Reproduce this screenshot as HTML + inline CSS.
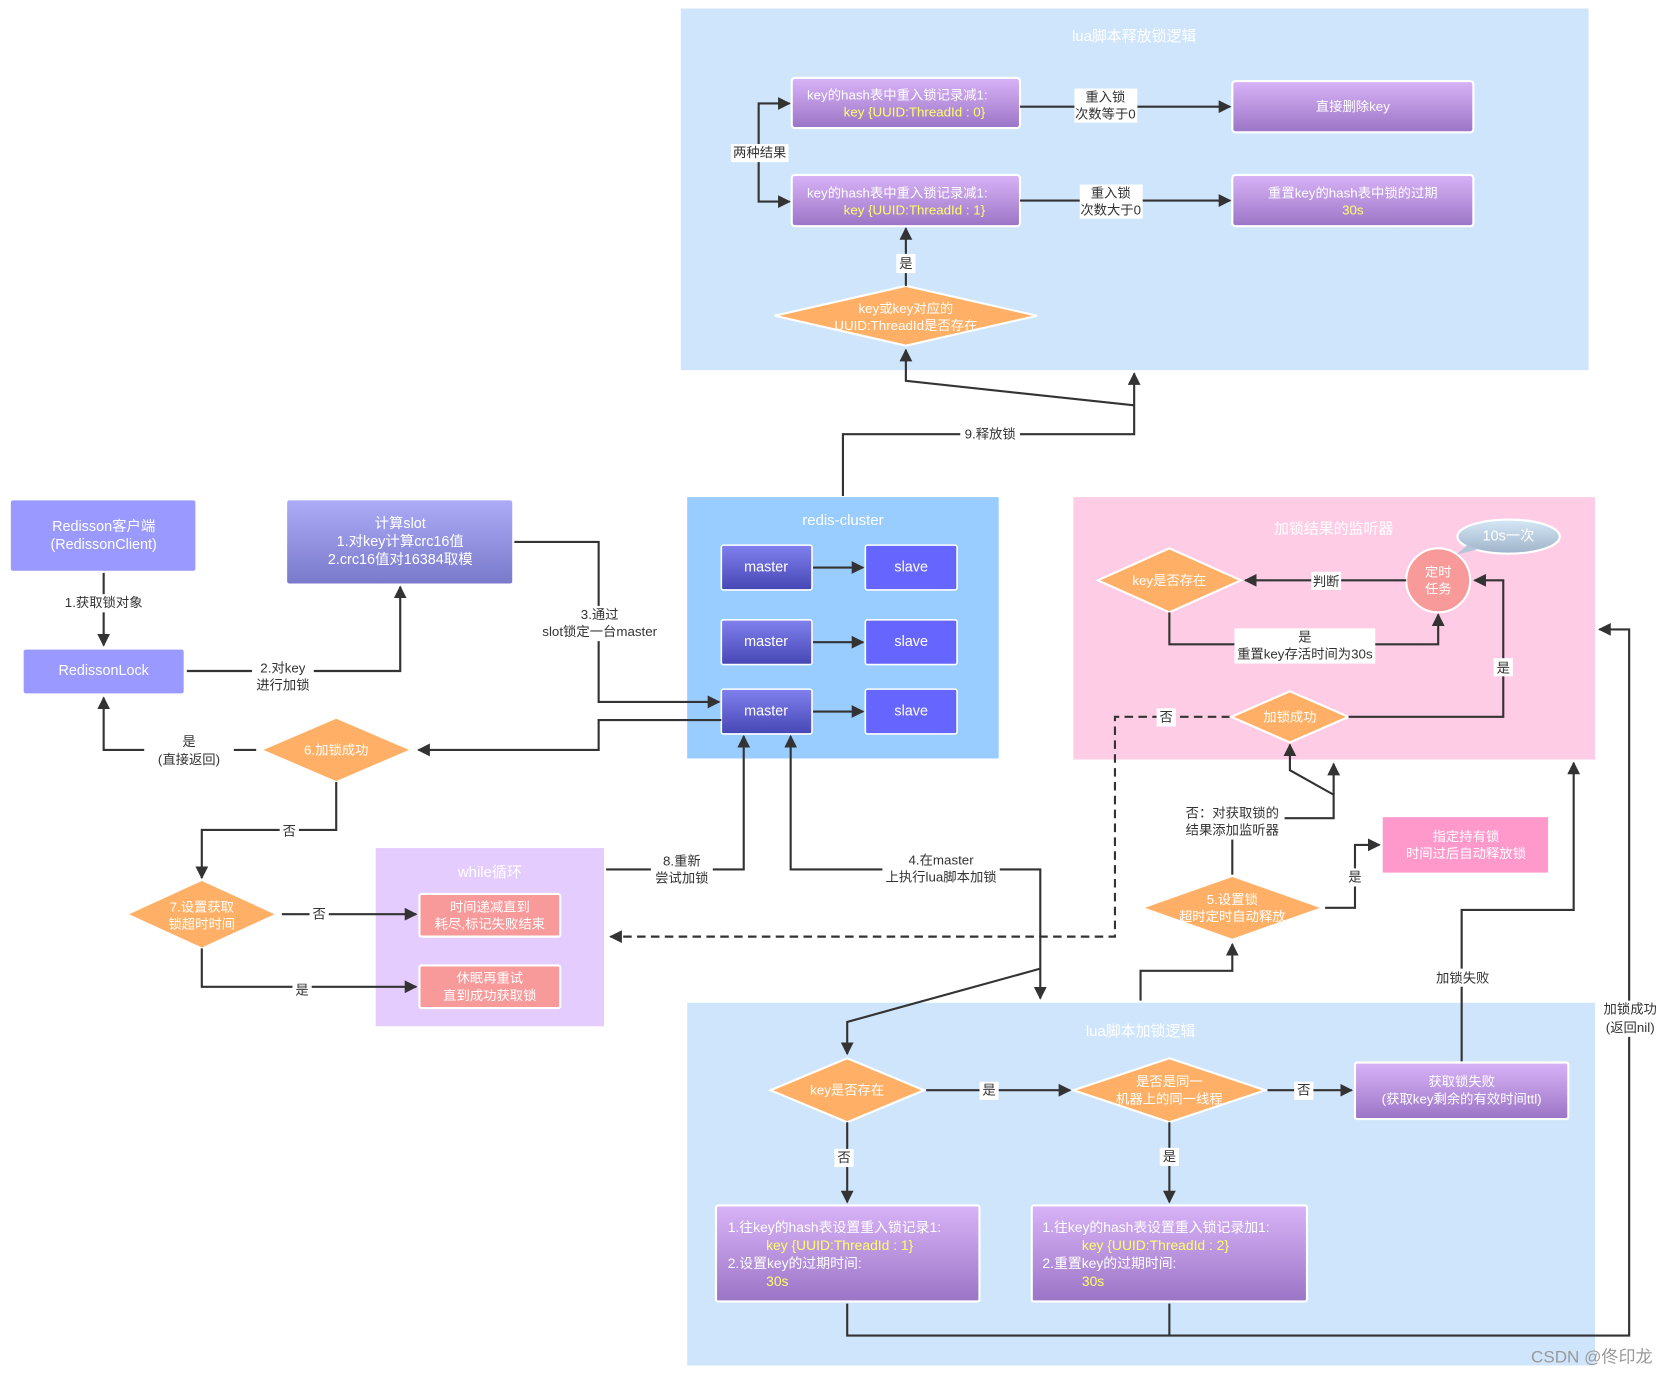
<!DOCTYPE html>
<html><head><meta charset="utf-8"><style>
html,body{margin:0;padding:0;background:#fff;}
svg{display:block;}
text{font-family:"Liberation Sans","Noto Sans CJK SC",sans-serif;font-size:12.5px;text-anchor:middle;dominant-baseline:central;}
.w{fill:#fff;}
.t{fill:#fff;font-size:14px;}
.y{fill:#ffff66;}
.k{fill:#333;}
.ln{stroke:#333;stroke-width:2;fill:none;}
.lb{fill:#fff;}
</style></head><body>
<svg width="1672" height="1374" viewBox="0 0 1567 1288" xmlns="http://www.w3.org/2000/svg">
<defs>
<linearGradient id="pg" x1="0" y1="0" x2="0" y2="1"><stop offset="0" stop-color="#d9b3f7"/><stop offset="1" stop-color="#9b75c6"/></linearGradient>
<linearGradient id="sg" x1="0" y1="0" x2="0" y2="1"><stop offset="0" stop-color="#ababf7"/><stop offset="1" stop-color="#7a7acb"/></linearGradient>
<linearGradient id="mg" x1="0" y1="0" x2="0" y2="1"><stop offset="0" stop-color="#8080ee"/><stop offset="1" stop-color="#4646b4"/></linearGradient>
<linearGradient id="eg" x1="0" y1="0" x2="0" y2="1"><stop offset="0" stop-color="#d6e8f6"/><stop offset="1" stop-color="#9fb3ca"/></linearGradient>
<marker id="a" viewBox="0 0 10 10" refX="9" refY="5" markerWidth="6" markerHeight="6" orient="auto-start-reverse"><path d="M0,0L10,5L0,10z" fill="#333"/></marker>
</defs>

<rect x="638" y="8" width="851" height="339" fill="#cfe5fb"/>
<text x="1063" y="34" class="t">lua脚本释放锁逻辑</text>
<rect x="644" y="466" width="292" height="245" fill="#99ccff"/>
<text x="790" y="488" class="t">redis-cluster</text>
<rect x="1006" y="466" width="489" height="246" fill="#ffcce6"/>
<text x="1250" y="496" class="t">加锁结果的监听器</text>
<rect x="352" y="795" width="214" height="167" fill="#e5ccff"/>
<text x="459" y="818" class="t">while循环</text>
<rect x="644" y="940" width="851" height="340" fill="#cfe5fb"/>
<text x="1069" y="967" class="t">lua脚本加锁逻辑</text>

<rect x="742" y="73" width="214" height="47" rx="3" fill="url(#pg)" stroke="#fff" stroke-width="2"/>
<text x="841" y="89" class="w">key的hash表中重入锁记录减1:</text>
<text x="857" y="105" class="y">key {UUID:ThreadId : 0}</text>
<rect x="742" y="164" width="214" height="48" rx="3" fill="url(#pg)" stroke="#fff" stroke-width="2"/>
<text x="841" y="181" class="w">key的hash表中重入锁记录减1:</text>
<text x="857" y="197" class="y">key {UUID:ThreadId : 1}</text>
<rect x="1155" y="76" width="226" height="48" rx="3" fill="url(#pg)" stroke="#fff" stroke-width="2"/>
<text x="1268" y="100" class="w">直接删除key</text>
<rect x="1155" y="164" width="226" height="48" rx="3" fill="url(#pg)" stroke="#fff" stroke-width="2"/>
<text x="1268" y="181" class="w">重置key的hash表中锁的过期</text>
<text x="1268" y="197" class="y">30s</text>
<polygon points="726,296 849,268 972,296 849,324" fill="#ffb066" stroke="#fff" stroke-width="2"/>
<text x="849" y="289" class="w">key或key对应的</text>
<text x="849" y="305" class="w">UUID:ThreadId是否存在</text>
<path class="ln" d="M849,268V214" marker-end="url(#a)"/>
<rect x="840" y="238" width="18" height="18" class="lb"/><text x="849" y="247" class="k">是</text>
<path class="ln" d="M740,97H711V189H740" marker-end="url(#a)" marker-start="url(#a)"/>
<rect x="685" y="135" width="54" height="17" class="lb"/><text x="712" y="143" class="k">两种结果</text>
<path class="ln" d="M956,100H1153" marker-end="url(#a)"/>
<rect x="1007" y="83" width="59" height="32" class="lb"/><text x="1036" y="91" class="k">重入锁</text><text x="1036" y="107" class="k">次数等于0</text>
<path class="ln" d="M956,188H1153" marker-end="url(#a)"/>
<rect x="1012" y="173" width="59" height="32" class="lb"/><text x="1041" y="181" class="k">重入锁</text><text x="1041" y="197" class="k">次数大于0</text>

<path class="ln" d="M790,465V407H1063V350" marker-end="url(#a)"/>
<path class="ln" d="M1063,380L849,357V328" marker-end="url(#a)"/>
<rect x="900" y="399" width="56" height="17" class="lb"/><text x="928" y="407" class="k">9.释放锁</text>

<rect x="10" y="469" width="173" height="66" rx="2" fill="#9999ff"/>
<text x="97" y="494" class="w" style="font-size:13.5px">Redisson客户端</text>
<text x="97" y="511" class="w" style="font-size:13.5px">(RedissonClient)</text>
<rect x="22" y="609" width="150" height="41" rx="2" fill="#9999ff"/>
<text x="97" y="629" class="w" style="font-size:13.5px">RedissonLock</text>
<path class="ln" d="M97,537V605" marker-end="url(#a)"/>
<rect x="58" y="557" width="78" height="17" class="lb"/><text x="97" y="565" class="k">1.获取锁对象</text>
<rect x="269" y="469" width="211" height="78" rx="2" fill="url(#sg)"/>
<text x="375" y="491" class="w" style="font-size:13.5px">计算slot</text>
<text x="375" y="508" class="w" style="font-size:13.5px">1.对key计算crc16值</text>
<text x="375" y="525" class="w" style="font-size:13.5px">2.crc16值对16384取模</text>
<path class="ln" d="M175,629H375V550" marker-end="url(#a)"/>
<rect x="236" y="618" width="58" height="33" class="lb"/><text x="265" y="626" class="k">2.对key</text><text x="265" y="642" class="k">进行加锁</text>
<path class="ln" d="M482,508H561V658H674" marker-end="url(#a)"/>
<rect x="504" y="568" width="116" height="33" class="lb"/><text x="562" y="576" class="k">3.通过</text><text x="562" y="592" class="k">slot锁定一台master</text>

<g stroke="#fff" stroke-width="1.5">
<rect x="676" y="511" width="85" height="42" rx="2" fill="url(#mg)"/>
<rect x="676" y="581" width="85" height="42" rx="2" fill="url(#mg)"/>
<rect x="676" y="646" width="85" height="42" rx="2" fill="url(#mg)"/>
<rect x="811" y="511" width="86" height="42" rx="2" fill="#6666ff"/>
<rect x="811" y="581" width="86" height="42" rx="2" fill="#6666ff"/>
<rect x="811" y="646" width="86" height="42" rx="2" fill="#6666ff"/>
</g>
<text x="718" y="532" class="w" style="font-size:13.5px">master</text>
<text x="718" y="602" class="w" style="font-size:13.5px">master</text>
<text x="718" y="667" class="w" style="font-size:13.5px">master</text>
<text x="854" y="532" class="w" style="font-size:13.5px">slave</text>
<text x="854" y="602" class="w" style="font-size:13.5px">slave</text>
<text x="854" y="667" class="w" style="font-size:13.5px">slave</text>
<path class="ln" d="M762,532H809" marker-end="url(#a)"/>
<path class="ln" d="M762,602H809" marker-end="url(#a)"/>
<path class="ln" d="M762,667H809" marker-end="url(#a)"/>

<path class="ln" d="M676,675H561V703H392" marker-end="url(#a)"/>
<polygon points="245,703 315,673 385,703 315,733" fill="#ffb066" stroke="#fff" stroke-width="1.5"/>
<text x="315" y="703" class="w">6.加锁成功</text>
<path class="ln" d="M240,703H97V654" marker-end="url(#a)"/>
<rect x="135" y="687" width="84" height="34" class="lb"/><text x="177" y="695" class="k">是</text><text x="177" y="712" class="k">(直接返回)</text>
<path class="ln" d="M315,733V778H189V823" marker-end="url(#a)"/>
<rect x="262" y="771" width="18" height="17" class="lb"/><text x="271" y="779" class="k">否</text>

<polygon points="119,857 189,825 259,857 189,889" fill="#ffb066" stroke="#fff" stroke-width="1.5"/>
<text x="189" y="850" class="w">7.设置获取</text>
<text x="189" y="866" class="w">锁超时时间</text>
<rect x="393" y="838" width="132" height="40" rx="2" fill="#f8999a" stroke="#fff" stroke-width="2"/>
<text x="459" y="850" class="w">时间递减直到</text><text x="459" y="866" class="w">耗尽,标记失败结束</text>
<rect x="393" y="905" width="132" height="40" rx="2" fill="#f8999a" stroke="#fff" stroke-width="2"/>
<text x="459" y="917" class="w">休眠再重试</text><text x="459" y="933" class="w">直到成功获取锁</text>
<path class="ln" d="M264,857H390" marker-end="url(#a)"/>
<rect x="290" y="849" width="18" height="17" class="lb"/><text x="299" y="857" class="k">否</text>
<path class="ln" d="M189,889V925H390" marker-end="url(#a)"/>
<rect x="274" y="920" width="18" height="17" class="lb"/><text x="283" y="928" class="k">是</text>

<path class="ln" d="M568,815H697V690" marker-end="url(#a)"/>
<rect x="610" y="799" width="58" height="33" class="lb"/><text x="639" y="807" class="k">8.重新</text><text x="639" y="823" class="k">尝试加锁</text>
<path class="ln" d="M741,690V815H975V936" marker-start="url(#a)" marker-end="url(#a)"/>
<rect x="827" y="798" width="110" height="33" class="lb"/><text x="882" y="806" class="k">4.在master</text><text x="882" y="822" class="k">上执行lua脚本加锁</text>
<path class="ln" d="M975,908L794,958V988" marker-end="url(#a)"/>

<path d="M1153,672H1045V878H572" stroke="#333" stroke-width="2" fill="none" stroke-dasharray="8,5" marker-end="url(#a)"/>
<rect x="1084" y="664" width="18" height="17" class="lb"/><text x="1093" y="672" class="k">否</text>

<polygon points="1029,544 1096,514 1163,544 1096,574" fill="#ffb066" stroke="#fff" stroke-width="2"/>
<text x="1096" y="544" class="w">key是否存在</text>
<circle cx="1348" cy="544" r="30" fill="#f8999a" stroke="#fff" stroke-width="2"/>
<text x="1348" y="536" class="w">定时</text><text x="1348" y="552" class="w">任务</text>
<ellipse cx="1414" cy="503" rx="48" ry="16" fill="url(#eg)" stroke="#fff" stroke-width="2"/>
<path d="M1375,511L1365,520L1385,515z" fill="#b5c7da"/>
<text x="1414" y="503" class="w" style="font-size:13.5px">10s一次</text>
<path class="ln" d="M1318,544H1167" marker-end="url(#a)"/>
<rect x="1229" y="536" width="28" height="17" class="lb"/><text x="1243" y="545" class="k">判断</text>
<path class="ln" d="M1096,574V604H1348V576" marker-end="url(#a)"/>
<rect x="1157" y="589" width="132" height="33" class="lb"/><text x="1223" y="597" class="k">是</text><text x="1223" y="613" class="k">重置key存活时间为30s</text>
<polygon points="1154,672 1209,648 1264,672 1209,696" fill="#ffb066" stroke="#fff" stroke-width="2"/>
<text x="1209" y="672" class="w">加锁成功</text>
<path class="ln" d="M1264,672H1409V544H1382" marker-end="url(#a)"/>
<rect x="1400" y="617" width="18" height="17" class="lb"/><text x="1409" y="626" class="k">是</text>

<path class="ln" d="M1250,745L1209,722V698" marker-end="url(#a)"/>
<path class="ln" d="M1155,820V767H1250V716" marker-end="url(#a)"/>
<rect x="1106" y="754" width="98" height="33" class="lb"/><text x="1155" y="762" class="k">否：对获取锁的</text><text x="1155" y="778" class="k">结果添加监听器</text>
<polygon points="1070,851 1155,821 1240,851 1155,881" fill="#ffb066" stroke="#fff" stroke-width="2"/>
<text x="1155" y="843" class="w">5.设置锁</text><text x="1155" y="859" class="w">超时定时自动释放</text>
<path class="ln" d="M1242,851H1270V792H1293" marker-end="url(#a)"/>
<rect x="1261" y="814" width="18" height="17" class="lb"/><text x="1270" y="822" class="k">是</text>
<rect x="1296" y="766" width="155" height="52" fill="#ff99cc"/>
<text x="1374" y="784" class="w">指定持有锁</text><text x="1374" y="800" class="w">时间过后自动释放锁</text>
<path class="ln" d="M1069,938V910H1155V885" marker-end="url(#a)"/>

<path class="ln" d="M1370,996V853H1475V715" marker-end="url(#a)"/>
<rect x="1340" y="908" width="60" height="17" class="lb"/><text x="1371" y="917" class="k">加锁失败</text>

<path class="ln" d="M794,1222V1252H1527V590H1499" marker-end="url(#a)"/>
<path class="ln" d="M1096,1222V1252"/>
<rect x="1497" y="938" width="62" height="34" class="lb"/><text x="1528" y="946" class="k">加锁成功</text><text x="1528" y="963" class="k">(返回nil)</text>

<polygon points="722,1022 794,992 866,1022 794,1052" fill="#ffb066" stroke="#fff" stroke-width="2"/>
<text x="794" y="1022" class="w">key是否存在</text>
<polygon points="1006,1022 1096,992 1186,1022 1096,1052" fill="#ffb066" stroke="#fff" stroke-width="2"/>
<text x="1096" y="1014" class="w">是否是同一</text><text x="1096" y="1030" class="w">机器上的同一线程</text>
<rect x="1270" y="996" width="200" height="53" rx="2" fill="url(#pg)" stroke="#fff" stroke-width="2"/>
<text x="1370" y="1014" class="w">获取锁失败</text><text x="1370" y="1030" class="w">(获取key剩余的有效时间ttl)</text>
<path class="ln" d="M868,1022H1003" marker-end="url(#a)"/>
<rect x="918" y="1014" width="18" height="17" class="lb"/><text x="927" y="1022" class="k">是</text>
<path class="ln" d="M1188,1022H1267" marker-end="url(#a)"/>
<rect x="1213" y="1014" width="18" height="17" class="lb"/><text x="1222" y="1022" class="k">否</text>
<path class="ln" d="M794,1052V1127" marker-end="url(#a)"/>
<rect x="782" y="1077" width="18" height="17" class="lb"/><text x="791" y="1085" class="k">否</text>
<path class="ln" d="M1096,1052V1127" marker-end="url(#a)"/>
<rect x="1087" y="1076" width="18" height="17" class="lb"/><text x="1096" y="1084" class="k">是</text>
<rect x="671" y="1130" width="247" height="90" rx="2" fill="url(#pg)" stroke="#fff" stroke-width="2"/>
<text x="682" y="1150" class="w" style="text-anchor:start;font-size:13px">1.往key的hash表设置重入锁记录1:</text>
<text x="718" y="1167" class="y" style="text-anchor:start;font-size:13px">key {UUID:ThreadId : 1}</text>
<text x="682" y="1184" class="w" style="text-anchor:start;font-size:13px">2.设置key的过期时间:</text>
<text x="718" y="1201" class="y" style="text-anchor:start;font-size:13px">30s</text>
<rect x="967" y="1130" width="258" height="90" rx="2" fill="url(#pg)" stroke="#fff" stroke-width="2"/>
<text x="977" y="1150" class="w" style="text-anchor:start;font-size:13px">1.往key的hash表设置重入锁记录加1:</text>
<text x="1014" y="1167" class="y" style="text-anchor:start;font-size:13px">key {UUID:ThreadId : 2}</text>
<text x="977" y="1184" class="w" style="text-anchor:start;font-size:13px">2.重置key的过期时间:</text>
<text x="1014" y="1201" class="y" style="text-anchor:start;font-size:13px">30s</text>

<text x="1492" y="1272" style="fill:#999;font-size:16px">CSDN @佟印龙</text>
</svg>
</body></html>
